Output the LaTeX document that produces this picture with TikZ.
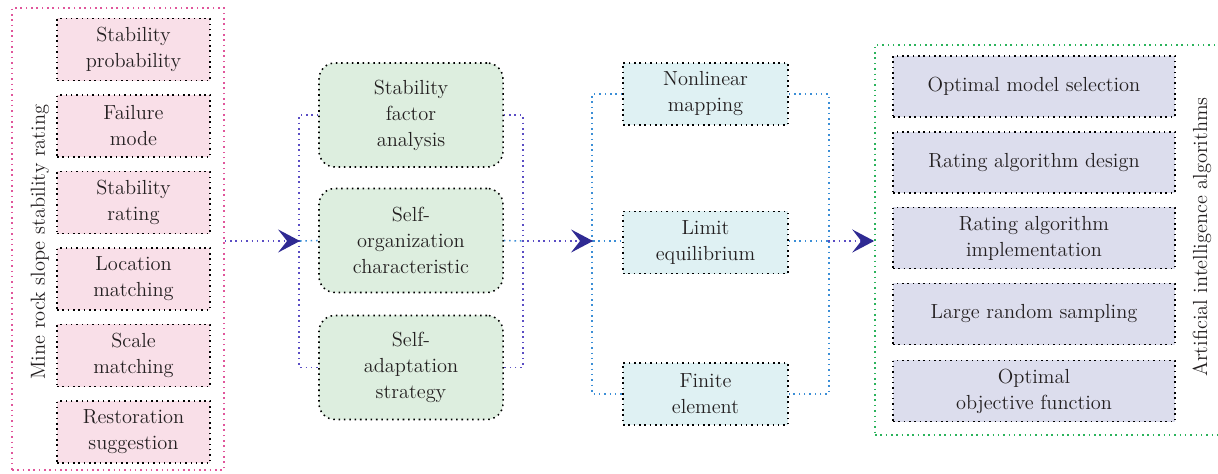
\documentclass[tikz,border=0pt]{standalone}
\usetikzlibrary{arrows.meta}

\definecolor{textgray}{HTML}{231F20}
\definecolor{pinkfill}{HTML}{F9DFE8}
\definecolor{pinkline}{HTML}{E0569B}
\definecolor{greenfill}{HTML}{DDEEDF}
\definecolor{cyanfill}{HTML}{DFF1F3}
\definecolor{lavfill}{HTML}{DCDDED}
\definecolor{frameline}{HTML}{2BB35B}
\definecolor{brackpurple}{HTML}{5A4DC4}
\definecolor{brackblue}{HTML}{3B8ED6}
\definecolor{arrownavy}{HTML}{2F2A93}

\begin{document}
\begin{tikzpicture}[x=0.025cm, y=-0.025cm,
  every node/.style={font=\fontsize{14.5}{18.5}\selectfont, text=textgray,
    align=center, inner sep=0pt},
  dots/.style={dash pattern=on 1.1pt off 2.7pt, line width=1.1pt},
  boxdots/.style={draw=black, dots},
  ratebox/.style={boxdots, fill=pinkfill, minimum width=3.825cm, minimum height=1.55cm},
  factorbox/.style={boxdots, fill=greenfill, rounded corners=0.4cm,
    minimum width=4.6cm, minimum height=2.6cm},
  methodbox/.style={boxdots, fill=cyanfill, minimum width=4.125cm, minimum height=1.55cm},
  algobox/.style={boxdots, fill=lavfill, minimum width=7.05cm, minimum height=1.525cm},
  flow/.style={dots, draw=brackpurple,
    -{Stealth[length=15.6pt, width=16.4pt, inset=6.4pt, color=arrownavy, fill=arrownavy]}},
]
  \useasboundingbox (0,0) rectangle (1218,474);

  % left block: stability rating
  \node[draw=pinkline, dots, minimum width=5.3cm, minimum height=11.55cm] (rating) at (118,239) {};
  \node[rotate=90] (ratinglabel) at (40,242) {Mine rock slope stability rating};
  \node[ratebox] (r1) at (133.5,49.5) {Stability\\probability};
  \node[ratebox] (r2) at (133.5,126) {Failure\\mode};
  \node[ratebox] (r3) at (133.5,202.5) {Stability\\rating};
  \node[ratebox] (r4) at (133.5,279) {Location\\matching};
  \node[ratebox] (r5) at (133.5,355.5) {Scale\\matching};
  \node[ratebox] (r6) at (133.5,432) {Restoration\\suggestion};

  % second block: factors
  \node[factorbox] (f1) at (411,115) {Stability\\factor\\analysis};
  \node[factorbox] (f2) at (411,240.5) {Self-\\organization\\characteristic};
  \node[factorbox] (f3) at (411,367.5) {Self-\\adaptation\\strategy};

  \coordinate (fin) at (300,241);
  \coordinate (fout) at (522,241);
  \draw[dots, draw=brackpurple] (f1.west) -- ++(-19,0) |- (f3.west);
  \draw[dots, draw=brackpurple] (f1.east) -- ++(19,0) |- (f3.east);
  \draw[dots, draw=brackblue] (fin) -- (f2.west);
  \draw[dots, draw=brackblue] (f2.east) -- (fout);

  % third block: methods
  \node[methodbox] (m1) at (705.5,94) {Nonlinear\\mapping};
  \node[methodbox] (m2) at (705.5,242.5) {Limit\\equilibrium};
  \node[methodbox] (m3) at (705.5,394) {Finite\\element};

  \coordinate (min) at (593,241);
  \coordinate (mout) at (828,241);
  \draw[dots, draw=brackblue] (m1.west) -- ++(-30,0) |- (m3.west);
  \draw[dots, draw=brackblue] (m1.east) -- ++(40,0) |- (m3.east);
  \draw[dots, draw=brackblue] (min) -- (min -| m2.west);
  \draw[dots, draw=brackblue] (mout -| m2.east) -- (mout);

  % right block: algorithms
  \node[draw=frameline, dots, minimum width=9.125cm, minimum height=9.75cm] (algo) at (1057.5,240) {};
  \node[rotate=90] (algolabel) at (1202,237) {Artificial intelligence algorithms};
  \node[algobox] (a1) at (1034,86.5) {Optimal model selection};
  \node[algobox] (a2) at (1034,162.5) {Rating algorithm design};
  \node[algobox] (a3) at (1034,238) {Rating algorithm\\implementation};
  \node[algobox] (a4) at (1034,314) {Large random sampling};
  \node[algobox] (a5) at (1034,391) {Optimal\\objective function};

  % arrows between blocks
  \draw[flow] (rating.east |- fin) -- (fin);
  \draw[flow] (fout) -- (min);
  \draw[flow] (mout) -- (algo.west |- mout);
\end{tikzpicture}
\end{document}
